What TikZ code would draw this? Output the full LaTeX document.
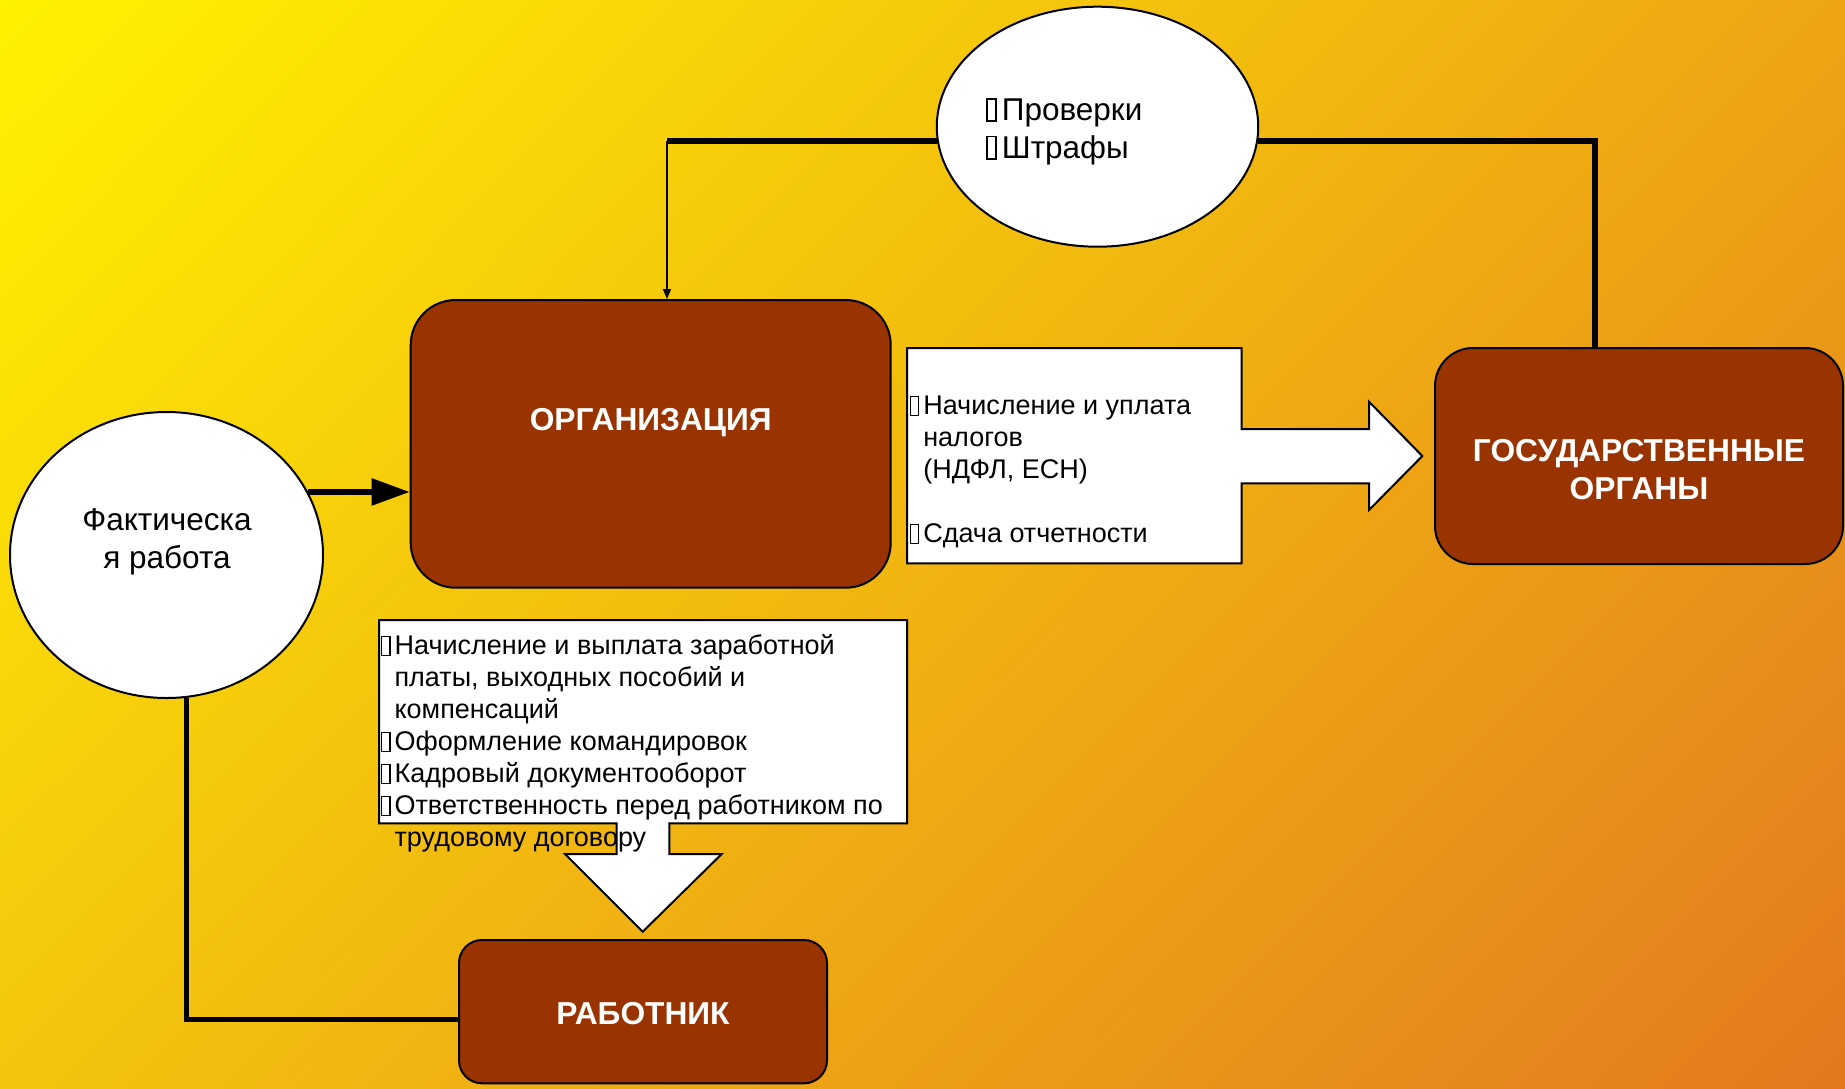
\documentclass[tikz,border=0pt]{standalone}
\usepackage{fontspec}
\setmainfont{Liberation Sans}
\usetikzlibrary{arrows.meta,shapes.geometric,shadings}
\pgfdeclarelayer{bglayer}
\pgfdeclarelayer{linelayer}
\pgfsetlayers{bglayer,linelayer,main}
\definecolor{bgUL}{HTML}{FFF200}
\definecolor{bgUR}{HTML}{EDA514}
\definecolor{bgLL}{HTML}{F4C50E}
\definecolor{bgLR}{HTML}{E3781F}
\definecolor{boxbrown}{HTML}{993300}
\newcommand\tofu{\makebox[0.57em][l]{\hspace{0.07em}{\setlength\fboxsep{0pt}\setlength\fboxrule{0.7pt}\fbox{\rule{0pt}{0.66em}\hspace{0.25em}}}}}
\newcommand\hang{\hspace*{0.57em}}
\newcommand\topst{\rule{0pt}{1em}}
\begin{document}
\begin{tikzpicture}[x=0.5pt,y=-0.5pt,
  brownbox/.style={draw=black, line width=1pt, fill=boxbrown, inner sep=0pt},
  oval/.style={ellipse, draw=black, line width=1pt, fill=white, inner sep=0pt},
  callout/.style={draw=black, line width=1pt, fill=white, line join=miter},
  thickline/.style={draw=black, line width=2.75pt},
  thinarrow/.style={draw=black, line width=0.75pt, -{Triangle[length=5pt,width=4pt]}},
  lbl/.style={text=white, font=\bfseries\fontsize{15.85pt}{19.25pt}\selectfont, inner sep=0pt, align=center},
  txt/.style={font=\fontsize{13.5pt}{16pt}\selectfont, inner sep=0pt, align=left},
  etxt/.style={font=\fontsize{15.75pt}{18.9pt}\selectfont, inner sep=0pt}
]
\useasboundingbox (0,0) rectangle (1845,1088);
\begin{pgfonlayer}{bglayer}
\shade[upper left=bgUL, upper right=bgUR, lower left=bgLL, lower right=bgLR] (0,0) rectangle (1845,1088);
\end{pgfonlayer}

% bend coordinates
\coordinate (cL) at (667,140);
\coordinate (cR) at (1595,140);

% main boxes
\node[brownbox, minimum width=240pt, minimum height=143.85pt, rounded corners=22.5pt] (org) at (650.7,443.85) {};
\node[brownbox, minimum width=204pt, minimum height=108pt, rounded corners=19pt] (gov) at (1639,456) {};
\node[brownbox, minimum width=184pt, minimum height=71.65pt, rounded corners=11.5pt] (worker) at (643,1011.65) {};

% ellipses
\node[oval, minimum width=160.7pt, minimum height=120pt] (checks) at (1097.5,126.7) {};
\node[oval, minimum width=156.5pt, minimum height=143pt] (work) at (166.5,555) {};

% connectors (under the shapes)
\begin{pgfonlayer}{linelayer}
\draw[thickline] (checks.185) -- (checks.185 -| cL);
\draw[thinarrow] (checks.185 -| cL) -- (cL |- org.north);
\draw[thickline] (checks.355) -- (checks.355 -| cR) -- (cR |- gov.north);
\draw[thickline, -{Triangle[length=19pt,width=13pt]}] (work.24) -- (work.24 -| org.west);
\draw[thickline] (work.278) |- ([yshift=-3.8pt]worker.west);
\end{pgfonlayer}

% tax callout (box with right block arrow)
\draw[callout] (907,348) -- (1241.7,348) -- (1241.7,429) -- (1369,429) -- (1369,401.7)
  -- (1422.3,456) -- (1369,510) -- (1369,483.3) -- (1241.7,483.3) -- (1241.7,563.3)
  -- (907,563.3) -- cycle;

% duties callout (box with down block arrow)
\draw[callout] (379,620) -- (907,620) -- (907,823.3) -- (669.3,823.3) -- (669.3,854)
  -- (721.7,854) -- (642.7,931.7) -- (565,854) -- (616.7,854) -- (616.7,823.3)
  -- (379,823.3) -- cycle;

% texts
\node[lbl, anchor=base] (orgT) at (650.7,430.2) {ОРГАНИЗАЦИЯ};
\node[lbl, anchor=north] (govT) at (1639,429) {\topst ГОСУДАРСТВЕННЫЕ\\ОРГАНЫ};
\node[lbl, anchor=base] (wrkT) at (643,1024.2) {РАБОТНИК};

\node[etxt, align=left, anchor=north west] (chkT) at (983.5,88.5)
  {\topst\tofu Проверки\\\tofu Штрафы};
\node[etxt, align=center, anchor=north, font=\fontsize{15.75pt}{19.15pt}\selectfont] (workT) at (167,498.5)
  {\topst Фактическа\\я работа};

\node[txt, anchor=north west] (taxT) at (907.5,387.5)
  {\topst\tofu Начисление и уплата\\\hang налогов\\\hang (НДФЛ, ЕСН)\\[16pt]\tofu Сдача отчетности};

\node[txt, anchor=north west] (dutyT) at (378.8,627.5)
  {\topst\tofu Начисление и выплата заработной\\
   \hang платы, выходных пособий и\\
   \hang компенсаций\\
   \tofu Оформление командировок\\
   \tofu Кадровый документооборот\\
   \tofu Ответственность перед работником по\\
   \hang трудовому договору};
\end{tikzpicture}
\end{document}
